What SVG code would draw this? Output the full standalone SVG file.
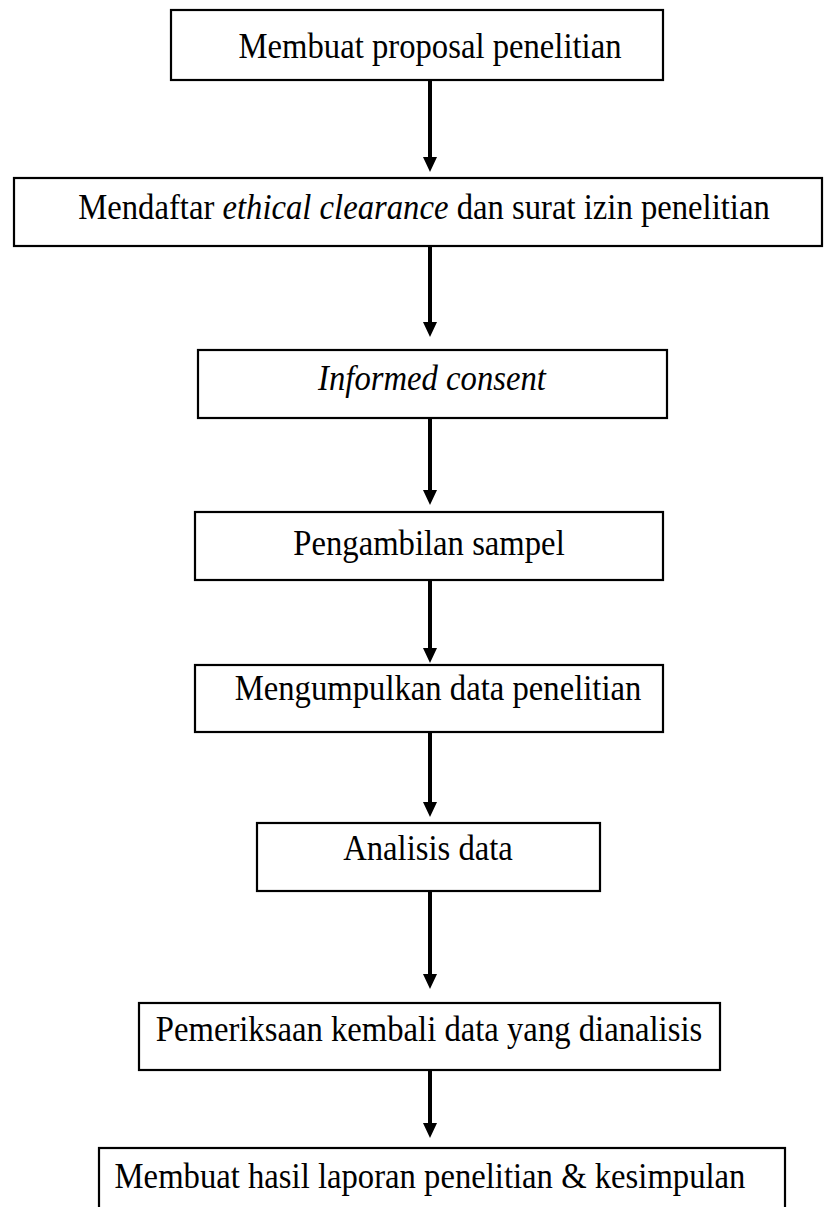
<svg xmlns="http://www.w3.org/2000/svg" width="824" height="1207" viewBox="0 0 824 1207">
<defs>
<style>
.box{fill:#fff;stroke:#000;stroke-width:2.2}
.t{font-family:"Liberation Serif","Times New Roman",serif;font-size:32.7px;fill:#000;text-anchor:middle}
.i{font-style:italic}
.c{stroke:#000;stroke-width:4;fill:none}
.h{fill:#000}
</style>
</defs>
<g id="connectors">
<path class="c" d="M430,80 V158"/><path class="h" d="M423,157 L437,157 L430,172 Z"/>
<path class="c" d="M430,246 V323"/><path class="h" d="M423,322 L437,322 L430,337 Z"/>
<path class="c" d="M430,418 V491"/><path class="h" d="M423,490 L437,490 L430,505 Z"/>
<path class="c" d="M430,580 V649"/><path class="h" d="M423,648 L437,648 L430,663 Z"/>
<path class="c" d="M430,732 V803"/><path class="h" d="M423,802 L437,802 L430,817 Z"/>
<path class="c" d="M430,891 V975"/><path class="h" d="M423,974 L437,974 L430,989 Z"/>
<path class="c" d="M430,1070 V1124"/><path class="h" d="M423,1123 L437,1123 L430,1138 Z"/>
</g>
<g id="n1"><rect class="box" x="171" y="10" width="492" height="70"/><text class="t" transform="translate(430,58) scale(1,1.12)">Membuat proposal penelitian</text></g>
<g id="n2"><rect class="box" x="14" y="178" width="808" height="68"/><text class="t" transform="translate(424,219) scale(1,1.12)">Mendaftar <tspan class="i">ethical clearance</tspan> dan surat izin penelitian</text></g>
<g id="n3"><rect class="box" x="198" y="350" width="469" height="68"/><text class="t i" transform="translate(432,390) scale(1,1.12)">Informed consent</text></g>
<g id="n4"><rect class="box" x="195" y="512" width="468" height="68"/><text class="t" transform="translate(429,555) scale(1,1.12)">Pengambilan sampel</text></g>
<g id="n5"><rect class="box" x="195" y="665" width="468" height="67"/><text class="t" transform="translate(438,700) scale(1,1.12)">Mengumpulkan data penelitian</text></g>
<g id="n6"><rect class="box" x="257" y="823" width="343" height="68"/><text class="t" transform="translate(428,860) scale(1,1.12)">Analisis data</text></g>
<g id="n7"><rect class="box" x="139" y="1003" width="581" height="67"/><text class="t" transform="translate(429,1041) scale(1,1.12)">Pemeriksaan kembali data yang dianalisis</text></g>
<g id="n8"><rect class="box" x="99" y="1148" width="686" height="80"/><text class="t" transform="translate(430,1188) scale(1,1.12)">Membuat hasil laporan penelitian &amp; kesimpulan</text></g>
</svg>
